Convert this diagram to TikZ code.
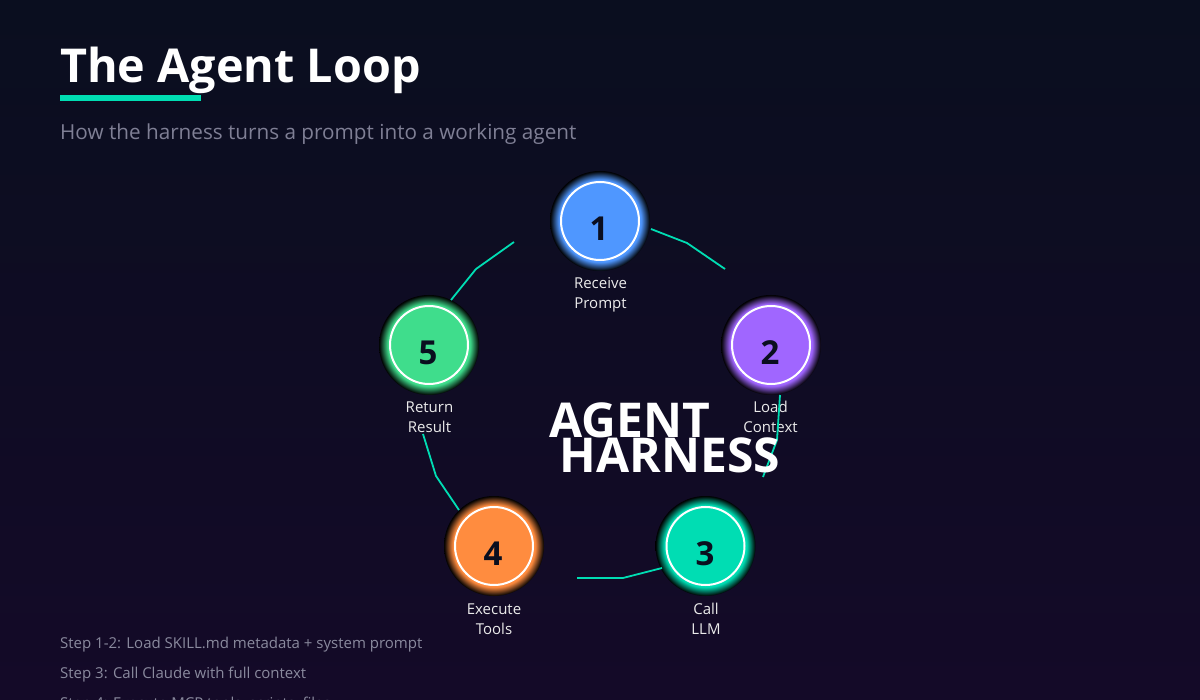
\documentclass[tikz,border=0pt]{standalone}
\usepackage{fontspec}
\setmainfont{Open Sans}
\definecolor{bgtop}{HTML}{0A0E1F}
\definecolor{bgbot}{HTML}{140A28}
\definecolor{teal}{HTML}{00DDB3}
\definecolor{cA}{HTML}{4F97FF}
\definecolor{cB}{HTML}{A066FF}
\definecolor{cC}{HTML}{00DDB3}
\definecolor{cD}{HTML}{FF8C3F}
\definecolor{cE}{HTML}{3FDD8C}
\definecolor{subgrey}{HTML}{7F7F95}
\definecolor{stepgrey}{HTML}{8A8A9E}
\definecolor{numink}{HTML}{0A0E1F}
\pgfdeclareradialshading{glowA}{\pgfpointorigin}{color(0bp)=(cA);color(20.5bp)=(cA);color(25bp)=(black);color(50bp)=(black)}
\pgfdeclareradialshading{glowB}{\pgfpointorigin}{color(0bp)=(cB);color(20.5bp)=(cB);color(25bp)=(black);color(50bp)=(black)}
\pgfdeclareradialshading{glowC}{\pgfpointorigin}{color(0bp)=(cC);color(20.5bp)=(cC);color(25bp)=(black);color(50bp)=(black)}
\pgfdeclareradialshading{glowD}{\pgfpointorigin}{color(0bp)=(cD);color(20.5bp)=(cD);color(25bp)=(black);color(50bp)=(black)}
\pgfdeclareradialshading{glowE}{\pgfpointorigin}{color(0bp)=(cE);color(20.5bp)=(cE);color(25bp)=(black);color(50bp)=(black)}
\tikzset{x=1pt,y=-1pt,
  halo/.style={circle,minimum size=100pt,inner sep=0pt,shading=#1},
  core/.style={circle,minimum size=78pt,inner sep=0pt,draw=white,line width=2pt,fill=#1},
  num/.style={font=\fontsize{33}{33}\selectfont\bfseries,text=numink,inner sep=0pt,anchor=center},
  captext/.style={font=\fontsize{15}{20}\selectfont,text=white!92!black,align=center,inner sep=0pt,anchor=center},
  link/.style={draw=teal,line width=1.8pt},
  stepline/.style={font=\fontsize{15}{15}\selectfont,text=stepgrey,inner sep=0pt,anchor=base west},
  bigtext/.style={font=\fontsize{48}{48}\selectfont\bfseries,text=white,inner sep=0pt,anchor=base},
}
\begin{document}
\begin{tikzpicture}
\useasboundingbox (0,0) rectangle (1200,700);
\shade[top color=bgtop,bottom color=bgbot] (0,0) rectangle (1200,700);
\node[font=\fontsize{46.7}{46.7}\selectfont\bfseries,text=white,inner sep=0pt,anchor=base west] (title) at (60,83) {The Agent Loop};
\fill[teal] (60,95) rectangle (201,101);
\node[font=\fontsize{20.7}{20.7}\selectfont,text=subgrey,inner sep=0pt,anchor=base west] (subtitle) at (60,139.5) {How the harness turns a prompt into a working agent};
\node[halo=glowA] (h1) at (600,221) {};
\node[core=cA] (c1) at (600,221) {};
\node[num] (n1) at (599,229) {1};
\node[captext] (l1) at (600.5,294.5) {Receive\\Prompt};
\node[halo=glowB] (h2) at (771,345) {};
\node[core=cB] (c2) at (771,345) {};
\node[num] (n2) at (770,353) {2};
\node[captext] (l2) at (770.5,417) {Load\\Context};
\node[halo=glowC] (h3) at (705.5,546) {};
\node[core=cC] (c3) at (705.5,546) {};
\node[num] (n3) at (705,554) {3};
\node[captext] (l3) at (706,619) {Call\\LLM};
\node[halo=glowD] (h4) at (494,546) {};
\node[core=cD] (c4) at (494,546) {};
\node[num] (n4) at (493,554) {4};
\node[captext] (l4) at (494,619) {Execute\\Tools};
\node[halo=glowE] (h5) at (429,345) {};
\node[core=cE] (c5) at (429,345) {};
\node[num] (n5) at (428,353) {5};
\node[captext] (l5) at (429.5,417) {Return\\Result};
\coordinate (e1) at (725,269);
\coordinate (e2) at (763,477);
\coordinate (e3) at (577,578);
\coordinate (e4) at (423,434);
\coordinate (e5) at (514,242);
\draw[link] (651,229) -- (687,243) -- (e1);
\draw[link] (780,395) -- (777,440) -- (e2);
\draw[link] (662,568) -- (623,578) -- (e3);
\draw[link] (459,510) -- (436,476) -- (e4);
\draw[link] (451,300) -- (476,269) -- (e5);
\node[bigtext] (ag) at (630,438) {AGENT};
\node[bigtext] (ha) at (670,473) {HARNESS};
\node[stepline] (s1) at (60,648) {Step 1-2: Load SKILL.md metadata + system prompt};
\node[stepline] (s2) at (60,678) {Step 3: Call Claude with full context};
\node[stepline] (s3) at (60,708) {Step 4: Execute MCP tools, scripts, files};
\end{tikzpicture}
\end{document}
